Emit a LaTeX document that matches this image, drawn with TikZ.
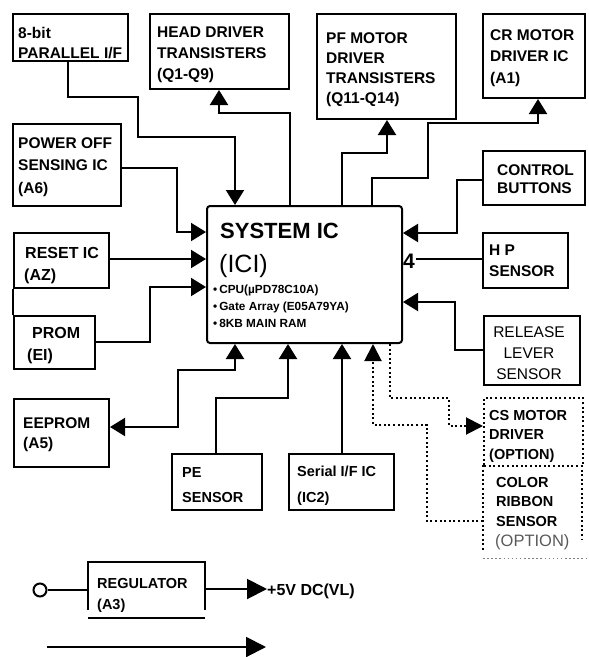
\documentclass[tikz,border=0pt]{standalone}
\usepackage{fontspec}
\setmainfont{Liberation Sans}
\usetikzlibrary{arrows.meta}
\begin{document}
\begin{tikzpicture}[x=1pt,y=-1pt,
  box/.style={draw, line width=2pt, inner sep=0pt, anchor=north west},
  nobox/.style={inner sep=0pt, anchor=north west},
  dbox/.style={draw, line width=2pt, dash pattern=on 2pt off 2.6pt, inner sep=0pt, anchor=north west},
  dotln/.style={line width=2pt, dash pattern=on 2pt off 2.6pt},
  ln/.style={line width=2pt},
  arr/.style={line width=2pt, -{Triangle[length=15pt,width=18pt]}},
  darr/.style={dotln, -{Triangle[length=17pt,width=17pt,sep=0pt]}},
  bigarr/.style={line width=2pt, -{Triangle[length=20pt,width=20pt]}},
  tx/.style={anchor=base west, inner sep=0pt, align=left},
  fb/.style={font=\bfseries\fontsize{15.5}{#1}\selectfont},
  fb/.default=21,
  fc/.style={font=\bfseries\fontsize{14.5}{#1}\selectfont},
  fc/.default=20,
  fr/.style={font=\fontsize{15.5}{21}\selectfont}
]
\useasboundingbox (0,0) rectangle (589,657);

% ---------- boxes ----------
\node[box, minimum width=115pt, minimum height=47pt]  (par)  at (12,13)  {};
\node[box, minimum width=139pt, minimum height=75pt]  (head) at (149,13) {};
\node[box, minimum width=139pt, minimum height=105pt] (pf)   at (316,13) {};
\node[box, minimum width=102pt, minimum height=84pt]  (cr)   at (482,13) {};
\node[box, minimum width=108pt, minimum height=82pt]  (pwr)  at (12,123) {};
\node[box, minimum width=102pt, minimum height=54pt]  (ctl)  at (482,150) {};
\node[box, rounded corners=3pt, minimum width=195pt, minimum height=137pt] (sys) at (206,205) {};
\node[box, minimum width=95pt, minimum height=55pt]   (rst)  at (13,232) {};
\node[box, minimum width=85pt, minimum height=55pt]   (hp)   at (482,232) {};
\node[box, minimum width=81pt, minimum height=53pt]   (prom) at (13,315) {};
\node[box, minimum width=96pt, minimum height=69pt]   (rel)  at (483,315) {};
\node[dbox, minimum width=99pt, minimum height=68pt]  (cs)   at (483,397) {};
\node[nobox, minimum width=99pt, minimum height=85pt] (col)  at (483,465) {};
\node[box, minimum width=95pt, minimum height=68pt]   (eep)  at (13,398) {};
\node[box, minimum width=90pt, minimum height=56pt]   (pe)   at (171,453) {};
\node[box, minimum width=105pt, minimum height=56pt]  (ser)  at (288,453) {};
\node[nobox, minimum width=117pt, minimum height=48pt] (reg) at (88,562) {};

% open-sided boxes
\draw[dotln] (col.north west) -- (col.south west);
\draw[dotln] (col.north east) -- ([yshift=10pt]col.south east);
\draw[gray, line width=1.3pt, dash pattern=on 1.5pt off 2.6pt] ([yshift=-8pt]col.south west) -- ([yshift=-8pt,xshift=7pt]col.south east);
\draw[ln] (reg.south west) -- (reg.north west) -- (reg.north east) -- (reg.south east);
\draw[ln] ([yshift=-8pt]reg.south west) -- ([yshift=-8pt]reg.south east);

% ---------- texts (anchor = baseline of last line) ----------
\node[tx, fb=20] (tpar) at (18,58) {8-bit\\PARALLEL I/F};
\node[tx, fb=21] (thead) at (157,79) {HEAD DRIVER\\TRANSISTERS\\(Q1-Q9)};
\node[tx, fb=20] (tpf) at (326,103) {PF MOTOR\\DRIVER\\TRANSISTERS\\(Q11-Q14)};
\node[tx, fb=21.5] (tcr) at (490,83) {CR MOTOR\\DRIVER IC\\(A1)};
\node[tx, fb=22.5] (tpwr) at (18,193) {POWER OFF\\SENSING IC\\(A6)};
\node[tx, fb=18.5] (tctl) at (497,193.5) {CONTROL\\BUTTONS};
\node[tx, fb=21] (thp) at (489,276) {H P\\SENSOR};
\node[anchor=base, inner sep=0pt, align=center, fr] (trel) at (529,379) {RELEASE\\LEVER\\SENSOR};
\node[tx, fc=19.5] (tcs) at (489,459) {CS MOTOR\\DRIVER\\(OPTION)};
\node[tx, fc=19.5] (tcol) at (496,526) {COLOR\\RIBBON\\SENSOR};
\node[tx, font=\fontsize{16.5}{20}\selectfont, text=black!65] (tcolo) at (495,546) {(OPTION)};
\node[tx, font=\bfseries\fontsize{16}{22}\selectfont] (trst) at (25,280) {RESET IC\\\hspace*{-1pt}(AZ)};
\node[tx, font=\bfseries\fontsize{16}{22}\selectfont] (tprom) at (27,360) {\hspace*{5pt}PROM\\(EI)};
\node[tx, fb=20] (teep) at (23,448) {EEPROM\\(A5)};
\node[tx, fc=25.5] (tpe) at (182,502.5) {PE\\SENSOR};
\node[tx, fc=26] (tser) at (297,502) {Serial I/F IC\\(IC2)};
\node[tx, fc=21] (treg) at (97,609) {REGULATOR\\(A3)};
\node[tx, font=\bfseries\fontsize{16}{20}\selectfont] (vl) at (267,595) {+5V DC(VL)};

\node[tx, font=\bfseries\fontsize{22}{26}\selectfont] (tsys1) at (220,238) {SYSTEM IC};
\node[tx, font=\fontsize{25}{28}\selectfont] (tsys2) at (219,272) {(ICI)};
\node[tx, font=\bfseries\fontsize{11.8}{17}\selectfont] (tsys3) at (213,327) {\textbullet\,CPU(µPD78C10A)\\\textbullet\,Gate Array (E05A79YA)\\\textbullet\,8KB MAIN RAM};
\node[tx, font=\bfseries\fontsize{21}{24}\selectfont, inner xsep=1pt] (four) at (402,268) {4};

% circle terminal
\node[draw, circle, line width=2pt, minimum size=13pt, inner sep=0pt] (circ) at (40,590) {};

% ---------- connectors ----------
\draw[arr] (par.south -| 68,0) |- (138,97) |- (235,137) -- (sys.north -| 235,0);
\draw[arr] (sys.north -| 290,0) |- (219,113) -- (head.south -| 219,0);
\draw[arr] (sys.north -| 342,0) |- (387,153) -- (pf.south -| 387,0);
\draw[arr] (sys.north -| 372,0) |- (428,178) |- (538,123) -- (cr.south -| 538,0);
\draw[arr] (ctl.west |- 0,180) -| (457,233) -- (sys.east |- 0,233);
\draw[ln] (hp.west |- 0,259) -- (four.east |- 0,259);
\draw[arr] (rel.west |- 0,350) -| (455,302) -- (sys.east |- 0,302);
\draw[darr] (sys.south -| 390,0) |- (449,398) |- (cs.west |- 0,426);
\draw[darr] (col.west |- 0,521) -| (427,425) -| (sys.south -| 373,0);
\draw[arr] (pwr.east |- 0,168) -| (177,232) -- (sys.west |- 0,232);
\draw[arr] (rst.east |- 0,259) -- (sys.west |- 0,259);
\draw[arr] (prom.east |- 0,342) -| (150,287) -- (sys.west |- 0,287);
\draw[ln] (rst.south west) -- (prom.north west);
\draw[line width=2pt, {Triangle[length=15pt,width=18pt]}-{Triangle[length=15pt,width=18pt]}] (sys.south -| 235,0) |- (178,370) |- (eep.east |- 0,427);
\draw[arr] (pe.north -| 216,0) |- (288,398) -- (sys.south -| 288,0);
\draw[arr] (ser.north -| 342,0) -- (sys.south -| 342,0);
\draw[ln] (circ.east) -- (reg.west |- circ);
\draw[bigarr] (reg.east |- 0,589) -- (vl.west |- 0,589);
\coordinate (la) at (47,647);
\coordinate (lb) at (266,647);
\draw[bigarr] (la) -- (lb);
\end{tikzpicture}
\end{document}
